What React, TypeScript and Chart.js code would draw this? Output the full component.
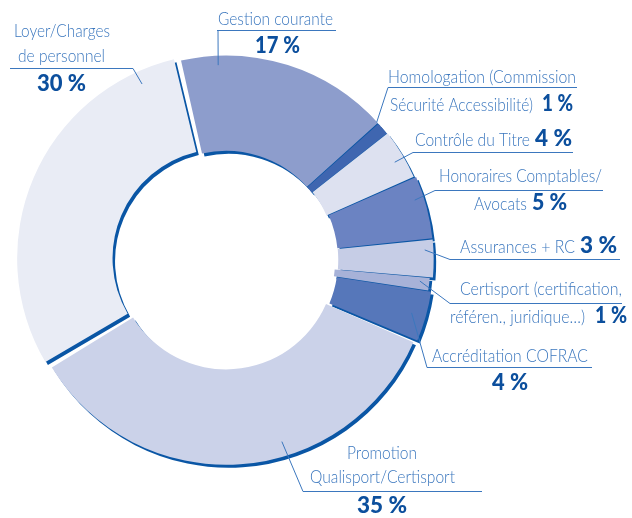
import React, { useEffect, useRef } from 'react';
import { Chart, registerables } from 'chart.js';

Chart.register(...registerables);

// ---- data ----
const categories = [
  'Loyer/Charges de personnel',
  'Gestion courante',
  'Homologation (Commission Sécurité Accessibilité)',
  'Contrôle du Titre',
  'Honoraires Comptables/Avocats',
  'Assurances + RC',
  'Certisport (certification, référen., juridique…)',
  'Accréditation COFRAC',
  'Promotion Qualisport/Certisport',
];
const shares = [30, 17, 1, 4, 5, 3, 1, 4, 35];
const sliceColors = [
  '#e9ecf5',
  '#8d9dcc',
  '#3f66b0',
  '#dde1f0',
  '#6b83c2',
  '#c6cde6',
  '#a7b2d8',
  '#5677ba',
  '#cbd2e9',
];
const sliceOffsets = [18, 0, 0, 2, 7, 7, 0, 7, 1];

// ---- styling ----
const SHADOW = '#0a56a5';
const LABEL_COLOR = '#3b77be';
const PCT_COLOR = '#0c4f9d';
const FONT = '300 18px Lato, "Open Sans", sans-serif';
const BOLD_FONT = '900 22px Lato, "Open Sans", sans-serif';

// label layout: runs {t: text (null = percent value), x, y (baseline), w (width)}
type Run = { t: string | null; x: number; y: number; w: number };
type LabelLayout = {
  runs: Run[];
  underline: [number, number, number]; // x1, x2, y
  from: [number, number]; // leader start
  to: [number, number]; // leader end: angle (deg, clockwise from top), radius
};
const labelLayout: LabelLayout[] = [
  {
    runs: [
      { t: 'Loyer/Charges', x: 14, y: 37, w: 96 },
      { t: 'de personnel', x: 18, y: 62, w: 87 },
      { t: null, x: 37, y: 91, w: 49 },
    ],
    underline: [10, 133, 68],
    from: [133, 68],
    to: [334.5, 195],
  },
  {
    runs: [
      { t: 'Gestion courante', x: 218, y: 25, w: 115 },
      { t: null, x: 255, y: 53, w: 45 },
    ],
    underline: [217, 336, 30],
    from: [218, 30],
    to: [-2.3, 195],
  },
  {
    runs: [
      { t: 'Homologation (Commission', x: 388, y: 83, w: 188 },
      { t: 'Sécurité Accessibilité)', x: 390, y: 111, w: 143 },
      { t: null, x: 542, y: 111, w: 31 },
    ],
    underline: [388, 577, 87],
    from: [388, 87],
    to: [47.6, 204],
  },
  {
    runs: [
      { t: 'Contrôle du Titre', x: 415, y: 146, w: 115 },
      { t: null, x: 535, y: 146, w: 37 },
    ],
    underline: [413, 573, 152],
    from: [413, 152],
    to: [59.9, 195],
  },
  {
    runs: [
      { t: 'Honoraires Comptables/', x: 439, y: 182, w: 163 },
      { t: 'Avocats', x: 474, y: 210, w: 53 },
      { t: null, x: 532, y: 210, w: 35 },
    ],
    underline: [435, 603, 190],
    from: [435, 190],
    to: [72.4, 198],
  },
  {
    runs: [
      { t: 'Assurances + RC', x: 460, y: 253, w: 115 },
      { t: null, x: 580, y: 253, w: 37 },
    ],
    underline: [450, 620, 259],
    from: [450, 259],
    to: [87.1, 199],
  },
  {
    runs: [
      { t: 'Certisport (certification,', x: 460, y: 295, w: 162 },
      { t: 'référen., juridique…)', x: 450, y: 323, w: 135 },
      { t: null, x: 595, y: 323, w: 32 },
    ],
    underline: [450, 622, 303],
    from: [450, 303],
    to: [96.2, 195],
  },
  {
    runs: [
      { t: 'Accréditation COFRAC', x: 432, y: 362, w: 156 },
      { t: null, x: 492, y: 390, w: 36 },
    ],
    underline: [427, 592, 367],
    from: [427, 367],
    to: [105.9, 193],
  },
  {
    runs: [
      { t: 'Promotion', x: 347, y: 459, w: 70 },
      { t: 'Qualisport/Certisport', x: 310, y: 483, w: 145 },
      { t: null, x: 357, y: 513, w: 50 },
    ],
    underline: [303, 482, 491],
    from: [303, 491],
    to: [162.9, 190],
  },
];

function drawFit(ctx: CanvasRenderingContext2D, text: string, x: number, y: number, w: number, font: string, color: string) {
  ctx.save();
  ctx.font = font;
  ctx.fillStyle = color;
  ctx.textAlign = 'left';
  ctx.textBaseline = 'alphabetic';
  const m = ctx.measureText(text).width || 1;
  ctx.translate(x, y);
  ctx.scale(w / m, 1);
  ctx.fillText(text, 0, 0);
  ctx.restore();
}

const shadowPlugin = {
  id: 'shadow3d',
  beforeDatasetsDraw(chart: any) {
    const ctx = chart.ctx as CanvasRenderingContext2D;
    ctx.save();
    ctx.shadowColor = SHADOW;
    ctx.shadowOffsetX = 2.5;
    ctx.shadowOffsetY = 3;
    ctx.shadowBlur = 0;
  },
  afterDatasetsDraw(chart: any) {
    chart.ctx.restore();
  },
};

const labelPlugin = {
  id: 'leaderLabels',
  afterDraw(chart: any) {
    const ctx = chart.ctx as CanvasRenderingContext2D;
    const meta = chart.getDatasetMeta(0);
    const arc0 = meta.data[0];
    if (!arc0) return;
    const cx = arc0.x;
    const cy = arc0.y;
    ctx.save();
    ctx.strokeStyle = LABEL_COLOR;
    ctx.lineWidth = 1;
    labelLayout.forEach((lab, i) => {
      const a = (lab.to[0] * Math.PI) / 180;
      const ex = cx + lab.to[1] * Math.sin(a);
      const ey = cy - lab.to[1] * Math.cos(a);
      ctx.beginPath();
      ctx.moveTo(lab.underline[0], lab.underline[2] + 0.5);
      ctx.lineTo(lab.underline[1], lab.underline[2] + 0.5);
      ctx.stroke();
      ctx.beginPath();
      ctx.moveTo(lab.from[0], lab.from[1] + 0.5);
      ctx.lineTo(ex, ey);
      ctx.stroke();
      lab.runs.forEach((r) => {
        if (r.t === null) {
          drawFit(ctx, `${shares[i]} %`, r.x, r.y, r.w, BOLD_FONT, PCT_COLOR);
        } else {
          drawFit(ctx, r.t, r.x, r.y, r.w, FONT, LABEL_COLOR);
        }
      });
    });
    ctx.restore();
  },
};

export default function App() {
  const canvasRef = useRef<HTMLCanvasElement | null>(null);

  useEffect(() => {
    if (!canvasRef.current) return;
    const chart = new Chart(canvasRef.current, {
      type: 'doughnut',
      data: {
        labels: categories,
        datasets: [
          {
            data: shares,
            backgroundColor: sliceColors,
            borderWidth: 0,
            offset: sliceOffsets,
            spacing: 3,
          } as any,
        ],
      },
      options: {
        responsive: false,
        animation: false,
        events: [],
        rotation: -121,
        radius: 203,
        cutout: '53%',
        layout: { padding: { left: 0, right: 180, top: 2, bottom: 0 } },
        plugins: {
          legend: { display: false },
          tooltip: { enabled: false },
        },
      } as any,
      plugins: [shadowPlugin, labelPlugin],
    });
    return () => chart.destroy();
  }, []);

  return (
    <div style={{ position: 'absolute', left: 0, top: 0, width: 632, height: 518, background: '#ffffff' }}>
      <canvas ref={canvasRef} width={632} height={518} style={{ width: 632, height: 518, display: 'block' }} />
    </div>
  );
}
